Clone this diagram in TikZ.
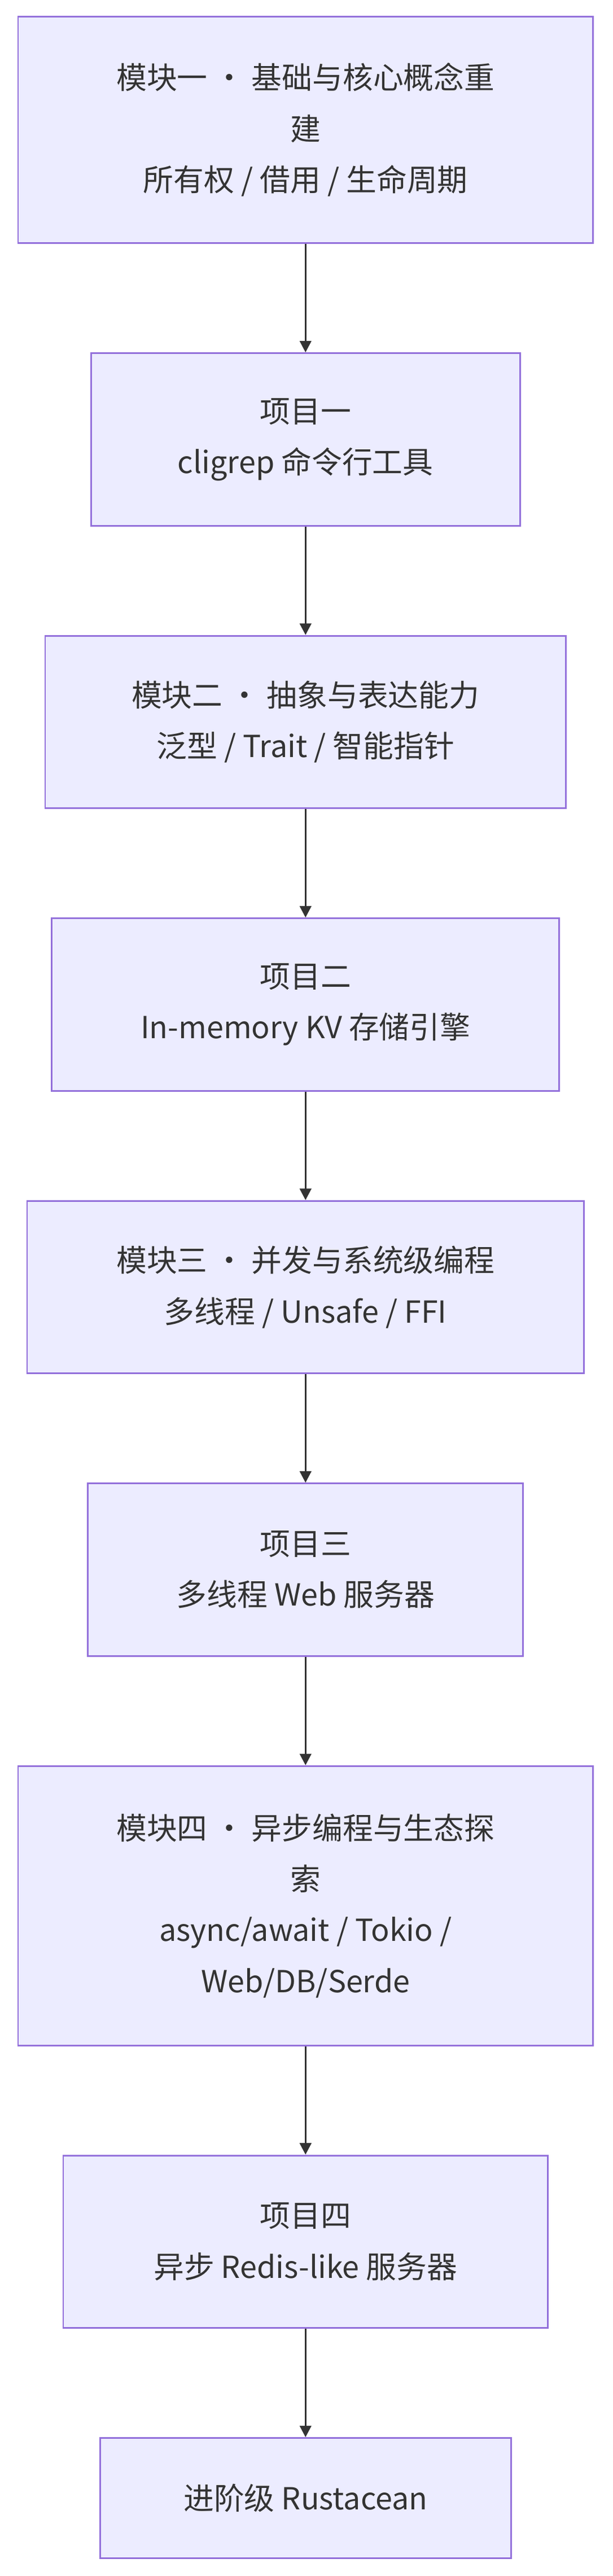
\documentclass[tikz,border=0pt]{standalone}
\usepackage{fontspec}
\setmainfont{Noto Sans CJK SC}
\usetikzlibrary{arrows.meta}
\definecolor{nfill}{HTML}{ECECFF}
\definecolor{nline}{HTML}{9370DB}
\definecolor{aline}{HTML}{333333}
\begin{document}
\begin{tikzpicture}[x=1pt,y=-1pt,
  box/.style={draw=nline,fill=nfill,line width=1pt,align=center,inner sep=0pt,
    font=\fontsize{18.5}{31}\selectfont,text=aline},
  arr/.style={draw=aline,line width=1.2pt,-{Triangle[length=7pt,width=7pt]}}]
\useasboundingbox (0,0) rectangle (373,1568);
\node[box,minimum width=350pt,minimum height=138pt] (n1) at (186,79) {模块一 · 基础与核心概念重\\建\\所有权 / 借用 / 生命周期};
\node[box,minimum width=261pt,minimum height=105pt] (n2) at (186,267.5) {项目一\\cligrep 命令行工具};
\node[box,minimum width=317pt,minimum height=105pt] (n3) at (186,439.5) {模块二 · 抽象与表达能力\\泛型 / Trait / 智能指针};
\node[box,minimum width=309pt,minimum height=105pt] (n4) at (186,611.5) {项目二\\In-memory KV 存储引擎};
\node[box,minimum width=339pt,minimum height=105pt] (n5) at (186,783.5) {模块三 · 并发与系统级编程\\多线程 / Unsafe / FFI};
\node[box,minimum width=265pt,minimum height=105pt] (n6) at (186,955.5) {项目三\\多线程 Web 服务器};
\node[box,minimum width=350pt,minimum height=170pt] (n7) at (186,1160) {模块四 · 异步编程与生态探\\索\\async/await / Tokio /\\Web/DB/Serde};
\node[box,minimum width=295pt,minimum height=105pt] (n8) at (186,1364.5) {项目四\\异步 Redis-like 服务器};
\node[box,minimum width=250pt,minimum height=73pt] (n9) at (186,1520.5) {进阶级 Rustacean};
\foreach \a/\b in {n1/n2,n2/n3,n3/n4,n4/n5,n5/n6,n6/n7,n7/n8,n8/n9}
  \draw[arr] (\a.south) -- (\b.north);
\end{tikzpicture}
\end{document}
